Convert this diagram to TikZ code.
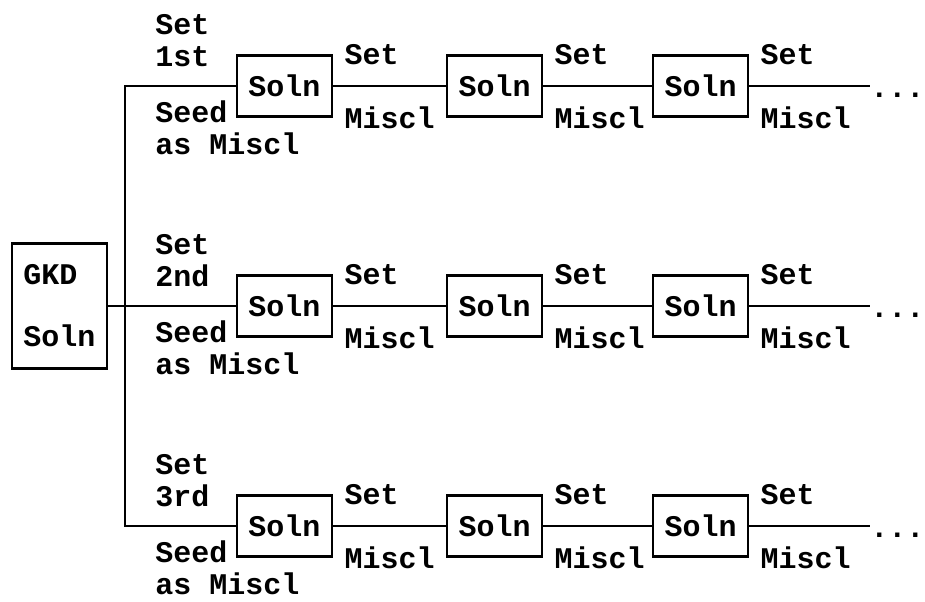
\documentclass[tikz,border=0pt]{standalone}
\usepackage{fontspec}
\setmonofont{Liberation Mono}
\usetikzlibrary{positioning, calc}

\tikzset{
  soln/.style={draw, line width=1.2pt, minimum width=47.5pt, minimum height=30.5pt, inner sep=0pt, align=left},
  lbl/.style={inner sep=0pt, align=left, anchor=west},
  wire/.style={line width=1pt},
}

\begin{document}
\begin{tikzpicture}[x=0.5pt, y=-0.5pt, font=\ttfamily\bfseries\fontsize{15}{16}\selectfont]
  \useasboundingbox (0,0) rectangle (925,601);

  % GKD solution on the left
  \node[soln, minimum height=62.5pt] (gkd) at (59.5,306) {GKD\\[15pt]Soln};

  % three rows of solutions
  \foreach \r/\ord in {1/1st,2/2nd,3/3rd}{
    \pgfmathsetmacro\ry{86+220*(\r-1)}
    \node[soln] (b\r1) at (284.5,\ry) {Soln};
    \node[soln] (b\r2) at (494.5,\ry) {Soln};
    \node[soln] (b\r3) at (700.5,\ry) {Soln};
    \coordinate (e\r) at (870,\ry);
    \node[lbl, anchor=base west] (dots\r) at ($(e\r)+(0,11)$) {...};
    \draw[wire] (b\r1) -- (b\r2) -- (b\r3) -- (e\r);
    \node[lbl] (set\r) at (155,\ry-45.5) {Set\\\ord};
    \node[lbl] (seed\r) at (155,\ry+42) {Seed\\as Miscl};
    \foreach \k in {1,2,3}{
      \node[lbl] (sa\r\k) at ([xshift=5.5pt]b\r\k.north east) {Set};
      \node[lbl] (mi\r\k) at ([xshift=5.5pt]b\r\k.south east) {Miscl};
    }
  }

  % trunk from GKD to the rows
  \coordinate (jb) at (125,526);
  \draw[wire] (b11) -| (jb) -- (b31);
  \draw[wire] (gkd.east |- b21) -- (b21);
\end{tikzpicture}
\end{document}
